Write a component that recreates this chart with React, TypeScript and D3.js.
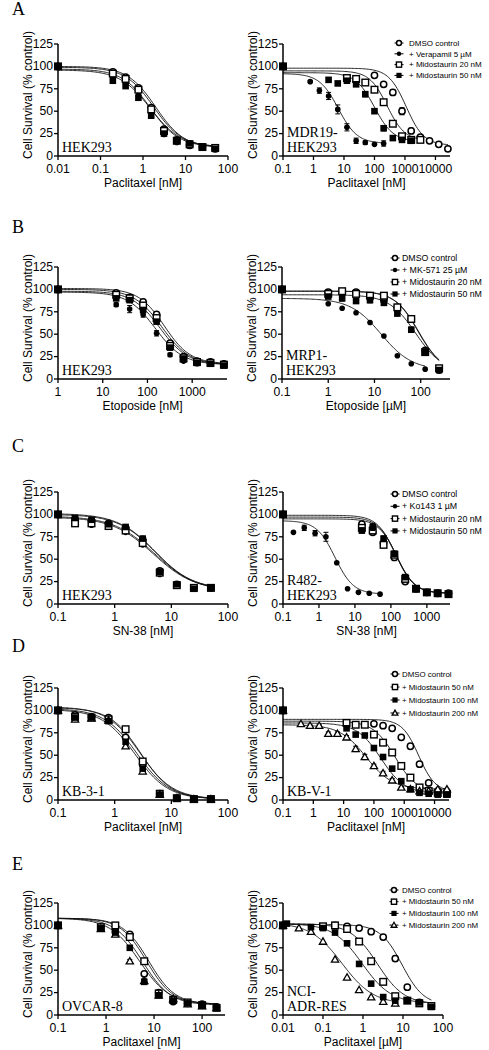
import React from 'react';
import * as d3 from 'd3';

// ---------- DATA ----------
// Panel A left: HEK293, paclitaxel [nM]
const aL_conc = [0.01, 0.195, 0.39, 0.78, 1.56, 3.125, 6.25, 12.5, 25, 50];
const aL_dmso = [100, 94, 88, 76, 54, 30, 18, 12, 10, 8];
const aL_inh = [100, 87, 80, 68, 47, 24, 15, 11, 10, 9];
const aL_m20 = [100, 92, 86, 74, 52, 28, 17, 13, 10, 9];
const aL_m50 = [100, 84, 78, 65, 45, 25, 17, 14, 10, 8];

// Panel A right: MDR19-HEK293
const aR_dmsoConc = [0.1, 100, 200, 400, 800, 1600, 3200, 6400, 12800, 25600];
const aR_dmso = [100, 90, 80, 71, 50, 28, 21, 17, 13, 8];
const aR_dmsoErr = [0, 2, 2, 3, 4, 3, 2, 1, 1, 1];
const aR_verConc = [0.1, 0.78, 1.56, 3.125, 6.25, 12.5, 25, 50, 100, 200];
const aR_ver = [100, 83, 73, 67, 52, 32, 17, 15, 13, 14];
const aR_verErr = [0, 1, 3, 4, 5, 4, 3, 2, 1, 3];
const aR_m20Conc = [0.1, 12.5, 25, 50, 100, 200, 400, 800, 1600, 3200];
const aR_m20 = [100, 87, 86, 82, 74, 60, 36, 22, 18, 18];
const aR_m20Err = [0, 2, 2, 2, 2, 2, 2, 2, 1, 1];
const aR_m50Conc = [0.1, 3.125, 6.25, 12.5, 25, 50, 100, 200, 400, 800, 1600];
const aR_m50 = [100, 85, 81, 84, 80, 69, 50, 31, 20, 18, 17];
const aR_m50Err = [0, 1, 1, 2, 2, 3, 2, 3, 2, 1, 1];

// Panel B left: HEK293, etoposide [nM]
const bL_conc = [1, 20, 40, 80, 160, 320, 640, 1280, 2560, 5120];
const bL_dmso = [100, 96, 91, 86, 72, 40, 25, 20, 19, 17];
const bL_inh = [100, 83, 78, 72, 51, 27, 20, 17, 17, 16];
const bL_inhErr = [0, 2, 4, 3, 3, 2, 1, 1, 1, 1];
const bL_m20 = [100, 94, 90, 82, 68, 37, 23, 19, 18, 16];
const bL_m50 = [100, 90, 88, 77, 64, 35, 22, 18, 17, 15];

// Panel B right: MRP1-HEK293, etoposide [µM]
const bR_conc = [0.1, 1, 2, 4, 8, 16, 31.25, 62.5, 125, 250];
const bR_dmso = [100, 97, 97, 97, 93, 88, 80, 67, 32, 10];
const bR_inhConc = [0.1, 1, 2, 4, 8, 16, 31.25, 62.5, 125];
const bR_inh = [100, 84, 79, 74, 63, 48, 26, 17, 11];
const bR_m20 = [100, 95, 98, 95, 93, 93, 80, 67, 30, 12];
const bR_m20Err = [0, 2, 2, 2, 2, 2, 2, 3, 2, 2];
const bR_m50 = [100, 92, 90, 87, 88, 85, 73, 55, 30, 10];
const bR_m50Err = [0, 2, 3, 2, 3, 3, 2, 3, 2, 1];

// Panel C left: HEK293, SN-38 [nM]
const cL_conc = [0.1, 0.2, 0.39, 0.78, 1.56, 3.125, 6.25, 12.5, 25, 50];
const cL_dmso = [100, 95, 93, 90, 85, 72, 37, 22, 18, 18];
const cL_inh = [100, 92, 88, 88, 80, 66, 33, 20, 17, 17];
const cL_m20 = [100, 90, 90, 87, 82, 68, 35, 21, 18, 18];
const cL_m50 = [100, 96, 94, 89, 86, 73, 36, 22, 17, 18];

// Panel C right: R482-HEK293, SN-38 [nM]
const cR_conc = [0.1, 15.6, 31.25, 62.5, 125, 250, 500, 1000, 2000, 4000];
const cR_dmso = [100, 89, 80, 68, 52, 25, 17, 13, 12, 12];
const cR_inhConc = [0.1, 0.195, 0.39, 0.78, 1.56, 3.125, 6.25, 12.5, 25, 50];
const cR_inh = [100, 80, 85, 79, 75, 46, 17, 13, 12, 11];
const cR_inhErr = [0, 0, 3, 3, 5, 0, 0, 0, 0, 0];
const cR_m20 = [100, 85, 82, 66, 55, 28, 17, 13, 12, 11];
const cR_m20Err = [0, 3, 3, 3, 2, 2, 1, 1, 1, 1];
const cR_m50 = [100, 82, 86, 73, 56, 30, 17, 13, 12, 11];
const cR_m50Err = [0, 3, 4, 3, 3, 2, 1, 1, 1, 1];

// Panel D left: KB-3-1, paclitaxel [nM]
const dL_conc = [0.1, 0.2, 0.39, 0.78, 1.56, 3.125, 6.25, 12.5, 25, 50];
const dL_dmso = [100, 95, 93, 92, 70, 40, 7, 2, 1, 1];
const dL_m50 = [100, 93, 92, 90, 79, 43, 7, 2, 1, 1];
const dL_m100 = [100, 92, 92, 88, 65, 35, 6, 2, 1, 1];
const dL_m200 = [100, 90, 91, 89, 60, 32, 6, 2, 1, 1];

// Panel D right: KB-V-1, paclitaxel [nM]
const dR_dmsoConc = [0.1, 100, 200, 400, 800, 1600, 3200, 6400, 12800, 25600];
const dR_dmso = [100, 85, 83, 80, 70, 60, 40, 19, 10, 8];
const dR_mConc = [0.1, 12.5, 25, 50, 100, 200, 400, 800, 1600, 3200, 6400, 12800, 25600];
const dR_m50 = [100, 86, 84, 84, 73, 64, 53, 38, 25, 14, 10, 8, 7];
const dR_m100 = [100, 80, 73, 72, 58, 48, 35, 21, 12, 8, 7, 6, 6];
const dR_m200Conc = [0.1, 0.39, 0.78, 1.56, 3.125, 6.25, 12.5, 25, 50, 100, 200, 400, 800, 1600, 3200, 6400, 12800, 25600];
const dR_m200 = [100, 85, 83, 83, 74, 74, 70, 57, 48, 38, 30, 22, 14, 12, 10, 10, 12, 12];
const dR_m200Err = [0, 1, 1, 1, 2, 2, 2, 3, 3, 2, 2, 2, 1, 1, 1, 1, 1, 1];

// Panel E left: OVCAR-8, paclitaxel [nM]
const eL_conc = [0.1, 0.78, 1.56, 3.125, 6.25, 12.5, 25, 50, 100, 200];
const eL_dmso = [100, 98, 93, 90, 46, 25, 15, 13, 12, 9];
const eL_m50 = [100, 98, 100, 87, 60, 24, 17, 14, 11, 8];
const eL_m100 = [100, 97, 92, 75, 37, 22, 16, 13, 11, 8];
const eL_m200 = [100, 96, 90, 60, 38, 22, 18, 12, 10, 8];
const eL_m200Err = [0, 1, 1, 2, 3, 2, 2, 1, 1, 1];

// Panel E right: NCI-ADR-RES, paclitaxel [µM]
const eR_dmsoConc = [0.01, 0.2, 0.4, 0.8, 1.6, 3.2, 6.4, 12.8, 25.6, 51.2];
const eR_dmso = [100, 100, 99, 97, 93, 87, 63, 31, 14, 10];
const eR_dmsoErr = [0, 1, 1, 1, 1, 1, 3, 2, 1, 1];
const eR_m50Conc = [0.01, 0.1, 0.2, 0.4, 0.8, 1.6, 3.2, 6.4, 12.8, 25.6, 51.2];
const eR_m50 = [100, 99, 100, 96, 82, 60, 37, 21, 16, 13, 10];
const eR_m100Conc = [0.01, 0.0125, 0.05, 0.1, 0.2, 0.4, 0.8, 1.6, 3.2, 6.4, 12.8, 25.6, 51.2];
const eR_m100 = [100, 102, 98, 97, 92, 80, 57, 35, 20, 16, 16, 14, 9];
const eR_m100Err = [0, 1, 1, 1, 1, 2, 2, 2, 1, 1, 1, 1, 1];
const eR_m200Conc = [0.01, 0.025, 0.05, 0.1, 0.2, 0.4, 0.8, 1.6, 3.2, 6.4];
const eR_m200 = [100, 97, 93, 82, 62, 42, 28, 20, 15, 13];

// Fit parameters [top, bottom, IC50, hill]
const aL_fits = [[100, 9, 2.0, 1.3], [97, 10, 1.5, 1.3], [99, 10, 1.8, 1.3], [96, 10, 1.5, 1.2]];
const aR_fits = [[98, 12, 1100, 1.5], [92, 14, 6.5, 1.4], [95, 17, 260, 1.5], [93, 16, 100, 1.4]];
const bL_fits = [[101, 17, 240, 1.5], [97, 16, 150, 1.4], [100, 16, 210, 1.4], [98, 16, 190, 1.4]];
const bR_fits = [[98, 8, 90, 1.7], [90, 10, 14, 1.3], [98, 8, 88, 1.7], [94, 8, 78, 1.5]];
const cL_fits = [[101, 16, 5.2, 1.3], [97, 15, 4.8, 1.2], [98, 15, 5.0, 1.2], [100, 15, 5.3, 1.3]];
const cR_fits = [[99, 12, 135, 1.7], [93, 11, 2.8, 1.7], [97, 12, 140, 1.7], [95, 12, 145, 1.7]];
const dL_fits = [[103, 1, 2.9, 1.6], [104, 1, 2.8, 1.5], [102, 1, 2.5, 1.5], [101, 1, 2.3, 1.5]];
const dR_fits = [[90, 9, 3000, 1.6], [88, 8, 500, 1.2], [86, 7, 170, 1.1], [84, 12, 55, 1.0]];
const eL_fits = [[108, 12, 7.0, 1.6], [108, 12, 7.8, 1.6], [108, 11, 5.8, 1.5], [108, 12, 5.0, 1.4]];
const eR_fits = [[101, 11, 9.5, 1.6], [102, 12, 2.3, 1.3], [102, 13, 0.95, 1.2], [103, 12, 0.3, 1.1]];

// Legend labels
const legA = ['DMSO control', '+ Verapamil 5 \u00b5M', '+ Midostaurin 20 nM', '+ Midostaurin 50 nM'];
const legB = ['DMSO control', '+ MK-571 25 \u00b5M', '+ Midostaurin 20 nM', '+ Midostaurin 50 nM'];
const legC = ['DMSO control', '+ Ko143 1 \u00b5M', '+ Midostaurin 20 nM', '+ Midostaurin 50 nM'];
const legDE = ['DMSO control', '+ Midostaurin 50 nM', '+ Midostaurin 100 nM', '+ Midostaurin 200 nM'];

const yTicks = [0, 25, 50, 75, 100, 125];

// ---------- TYPES / HELPERS ----------
type SymT = 'oc' | 'fc' | 'os' | 'fs' | 'ot';
interface Series { sym: SymT; conc: number[]; vals: number[]; err?: number[]; fit: number[] }
interface Panel {
  key: string; x0: number; x1: number; y0: number; dom: [number, number]; ticks: number[];
  xTitle: string; cell: string[]; series: Series[];
  legend?: { labels: string[]; syms: SymT[]; sx: number; tx: number; y: number; dy: number; fs: number };
}

const symsABC: SymT[] = ['oc', 'fc', 'os', 'fs'];
const symsDE: SymT[] = ['oc', 'os', 'fs', 'ot'];

function mk(syms: SymT[], concs: number[][], vals: number[][], fits: number[][], errs: (number[] | undefined)[] = []): Series[] {
  return syms.map((s, i) => ({ sym: s, conc: concs[i], vals: vals[i], fit: fits[i], err: errs[i] }));
}

const LX0 = 58, RX0 = 283;
const rowY0 = { A: 156, B: 379, C: 604, D: 800, E: 1015 };

const panels: Panel[] = [
  { key: 'aL', x0: LX0, x1: 228, y0: rowY0.A, dom: [0.01, 100], ticks: [0.01, 0.1, 1, 10, 100], xTitle: 'Paclitaxel [nM]', cell: ['HEK293'],
    series: mk(symsABC, [aL_conc, aL_conc, aL_conc, aL_conc], [aL_dmso, aL_inh, aL_m20, aL_m50], aL_fits) },
  { key: 'aR', x0: RX0, x1: 450, y0: rowY0.A, dom: [0.1, 30000], ticks: [0.1, 1, 10, 100, 1000, 10000], xTitle: 'Paclitaxel [nM]', cell: ['MDR19-', 'HEK293'],
    series: mk(symsABC, [aR_dmsoConc, aR_verConc, aR_m20Conc, aR_m50Conc], [aR_dmso, aR_ver, aR_m20, aR_m50], aR_fits, [aR_dmsoErr, aR_verErr, aR_m20Err, aR_m50Err]),
    legend: { labels: legA, syms: symsABC, sx: 399, tx: 409, y: 43, dy: 10.8, fs: 8 } },
  { key: 'bL', x0: LX0, x1: 227, y0: rowY0.B, dom: [1, 6000], ticks: [1, 10, 100, 1000], xTitle: 'Etoposide [nM]', cell: ['HEK293'],
    series: mk(symsABC, [bL_conc, bL_conc, bL_conc, bL_conc], [bL_dmso, bL_inh, bL_m20, bL_m50], bL_fits, [undefined, bL_inhErr]) },
  { key: 'bR', x0: 282, x1: 450, y0: rowY0.B, dom: [0.1, 430], ticks: [0.1, 1, 10, 100], xTitle: 'Etoposide [\u00b5M]', cell: ['MRP1-', 'HEK293'],
    series: mk(symsABC, [bR_conc, bR_inhConc, bR_conc, bR_conc], [bR_dmso, bR_inh, bR_m20, bR_m50], bR_fits, [undefined, undefined, bR_m20Err, bR_m50Err]),
    legend: { labels: legB, syms: symsABC, sx: 395, tx: 402, y: 258, dy: 12, fs: 8.8 } },
  { key: 'cL', x0: LX0, x1: 228, y0: rowY0.C, dom: [0.1, 100], ticks: [0.1, 1, 10, 100], xTitle: 'SN-38 [nM]', cell: ['HEK293'],
    series: mk(symsABC, [cL_conc, cL_conc, cL_conc, cL_conc], [cL_dmso, cL_inh, cL_m20, cL_m50], cL_fits) },
  { key: 'cR', x0: RX0, x1: 450, y0: rowY0.C, dom: [0.1, 4400], ticks: [0.1, 1, 10, 100, 1000], xTitle: 'SN-38 [nM]', cell: ['R482-', 'HEK293'],
    series: mk(symsABC, [cR_conc, cR_inhConc, cR_conc, cR_conc], [cR_dmso, cR_inh, cR_m20, cR_m50], cR_fits, [undefined, cR_inhErr, cR_m20Err, cR_m50Err]),
    legend: { labels: legC, syms: symsABC, sx: 395, tx: 402, y: 494, dy: 12.3, fs: 8.8 } },
  { key: 'dL', x0: LX0, x1: 228, y0: rowY0.D, dom: [0.1, 100], ticks: [0.1, 1, 10, 100], xTitle: 'Paclitaxel [nM]', cell: ['KB-3-1'],
    series: mk(symsDE, [dL_conc, dL_conc, dL_conc, dL_conc], [dL_dmso, dL_m50, dL_m100, dL_m200], dL_fits) },
  { key: 'dR', x0: RX0, x1: 449, y0: rowY0.D, dom: [0.1, 30000], ticks: [0.1, 1, 10, 100, 1000, 10000], xTitle: 'Paclitaxel [nM]', cell: ['KB-V-1'],
    series: mk(symsDE, [dR_dmsoConc, dR_mConc, dR_mConc, dR_m200Conc], [dR_dmso, dR_m50, dR_m100, dR_m200], dR_fits, [undefined, undefined, undefined, dR_m200Err]),
    legend: { labels: legDE, syms: symsDE, sx: 395, tx: 402, y: 674, dy: 13, fs: 7.9 } },
  { key: 'eL', x0: LX0, x1: 225, y0: rowY0.E, dom: [0.1, 300], ticks: [0.1, 1, 10, 100], xTitle: 'Paclitaxel [nM]', cell: ['OVCAR-8'],
    series: mk(symsDE, [eL_conc, eL_conc, eL_conc, eL_conc], [eL_dmso, eL_m50, eL_m100, eL_m200], eL_fits, [undefined, undefined, undefined, eL_m200Err]) },
  { key: 'eR', x0: RX0, x1: 443, y0: rowY0.E, dom: [0.01, 100], ticks: [0.01, 0.1, 1, 10, 100], xTitle: 'Paclitaxel [\u00b5M]', cell: ['NCI-', 'ADR-RES'],
    series: mk(symsDE, [eR_dmsoConc, eR_m50Conc, eR_m100Conc, eR_m200Conc], [eR_dmso, eR_m50, eR_m100, eR_m200], eR_fits, [eR_dmsoErr, undefined, eR_m100Err]),
    legend: { labels: legDE, syms: symsDE, sx: 394, tx: 402, y: 890, dy: 11.7, fs: 7.9 } },
];

const rowLetters = [
  { t: 'A', y: 15 }, { t: 'B', y: 233 }, { t: 'C', y: 452 }, { t: 'D', y: 652 }, { t: 'E', y: 870 },
];

const SANS = '"Liberation Sans", Arial, Helvetica, sans-serif';
const SERIF = '"Liberation Serif", "Times New Roman", Times, serif';
const PH = 112;

function Symbol({ t, x, y, s }: { t: SymT; x: number; y: number; s: number }) {
  switch (t) {
    case 'oc':
      return <circle cx={x} cy={y} r={s * 0.95} fill="#fff" stroke="#000" strokeWidth={1.5} />;
    case 'fc':
      return <circle cx={x} cy={y} r={s * 0.85} fill="#000" />;
    case 'os':
      return <rect x={x - s} y={y - s} width={2 * s} height={2 * s} fill="#fff" stroke="#000" strokeWidth={1.4} />;
    case 'fs':
      return <rect x={x - s} y={y - s} width={2 * s} height={2 * s} fill="#000" />;
    case 'ot': {
      const h = s * 1.1;
      return <path d={`M${x},${y - h}L${x + h},${y + h * 0.75}L${x - h},${y + h * 0.75}Z`} fill="#fff" stroke="#000" strokeWidth={1.3} />;
    }
  }
  return null;
}

function PanelView({ p }: { p: Panel }) {
  const xs = d3.scaleLog().domain(p.dom).range([p.x0, p.x1]);
  const ys = d3.scaleLinear().domain([0, 125]).range([p.y0, p.y0 - PH]);
  const line = d3.line<[number, number]>().x(d => xs(d[0])).y(d => ys(d[1]));
  const curves = p.series.map(s => {
    const [top, bot, ic, h] = s.fit;
    const lo = Math.log10(s.conc[0]);
    const hi = Math.log10(s.conc[s.conc.length - 1]);
    const pts: [number, number][] = d3.range(0, 121).map(i => {
      const c = Math.pow(10, lo + (hi - lo) * i / 120);
      return [c, bot + (top - bot) / (1 + Math.pow(c / ic, h))];
    });
    return line(pts) || '';
  });
  const order = p.series.map((s, i) => i).sort((a, b) => (p.series[a].sym === 'fs' ? 1 : 0) - (p.series[b].sym === 'fs' ? 1 : 0));
  const titleX = p.x0 - 30;
  return (
    <g>
      {curves.map((d, i) => <path key={'c' + i} d={d} fill="none" stroke="#111" strokeWidth={0.9} />)}
      {order.map(si => {
        const s = p.series[si];
        return (
          <g key={'s' + si}>
            {s.conc.map((c, j) => {
              const e = s.err ? s.err[j] || 0 : 0;
              const cx = xs(c), cy = ys(s.vals[j]);
              return (
                <g key={j}>
                  {e > 0 && (
                    <g stroke="#000" strokeWidth={1}>
                      <line x1={cx} x2={cx} y1={ys(s.vals[j] - e)} y2={ys(s.vals[j] + e)} />
                      <line x1={cx - 2.5} x2={cx + 2.5} y1={ys(s.vals[j] + e)} y2={ys(s.vals[j] + e)} />
                      <line x1={cx - 2.5} x2={cx + 2.5} y1={ys(s.vals[j] - e)} y2={ys(s.vals[j] - e)} />
                    </g>
                  )}
                  <Symbol t={s.sym} x={cx} y={cy} s={3.3} />
                </g>
              );
            })}
          </g>
        );
      })}
      {/* axes */}
      <line x1={p.x0} x2={p.x0} y1={p.y0} y2={p.y0 - PH} stroke="#000" strokeWidth={1.5} />
      <line x1={p.x0} x2={p.x1} y1={p.y0} y2={p.y0} stroke="#000" strokeWidth={1.5} />
      {yTicks.map(t => (
        <g key={'yt' + t}>
          <line x1={p.x0 - 4} x2={p.x0} y1={ys(t)} y2={ys(t)} stroke="#000" strokeWidth={1.3} />
          <text x={p.x0 - 5} y={ys(t) - 0.5} dy="0.36em" textAnchor="end" fontFamily={SANS} fontSize={12.2}>{t}</text>
        </g>
      ))}
      {p.ticks.map(t => (
        <g key={'xt' + t}>
          <line x1={xs(t)} x2={xs(t)} y1={p.y0} y2={p.y0 + 4} stroke="#000" strokeWidth={1.3} />
          <text x={xs(t)} y={p.y0 + 16.5} textAnchor="middle" fontFamily={SANS} fontSize={12.2}>{String(t)}</text>
        </g>
      ))}
      <text x={(p.x0 + p.x1) / 2} y={p.y0 + 31} textAnchor="middle" fontFamily={SANS} fontSize={12}>{p.xTitle}</text>
      <text transform={`translate(${titleX},${p.y0 - 61}) rotate(-90)`} textAnchor="middle" dy="0.35em" fontFamily={SANS} fontSize={12}>Cell Survival (% control)</text>
      {p.cell.map((c, i) => (
        <text key={'cl' + i} x={p.x0 + 4} y={p.y0 - 4 - (p.cell.length - 1 - i) * 15} fontFamily={SERIF} fontSize={14}>{c}</text>
      ))}
      {p.legend && p.legend.labels.map((l, i) => {
        const lg = p.legend!;
        const y = lg.y + i * lg.dy;
        return (
          <g key={'lg' + i}>
            <line x1={lg.sx - 4.5} x2={lg.sx + 4.5} y1={y} y2={y} stroke="#000" strokeWidth={1} />
            <Symbol t={lg.syms[i]} x={lg.sx} y={y} s={2.6} />
            <text x={lg.tx} y={y} dy="0.35em" fontFamily={SANS} fontSize={lg.fs}>{l}</text>
          </g>
        );
      })}
    </g>
  );
}

export default function App() {
  return (
    <div style={{ position: 'absolute', left: 0, top: 0, width: 489, height: 1050, background: '#fff' }}>
      <svg width={489} height={1050} viewBox="0 0 489 1050" style={{ display: 'block' }}>
        <rect width={489} height={1050} fill="#fff" />
        {rowLetters.map(r => (
          <text key={r.t} x={12} y={r.y} fontFamily={SERIF} fontSize={18}>{r.t}</text>
        ))}
        {panels.map(p => <PanelView key={p.key} p={p} />)}
      </svg>
    </div>
  );
}
